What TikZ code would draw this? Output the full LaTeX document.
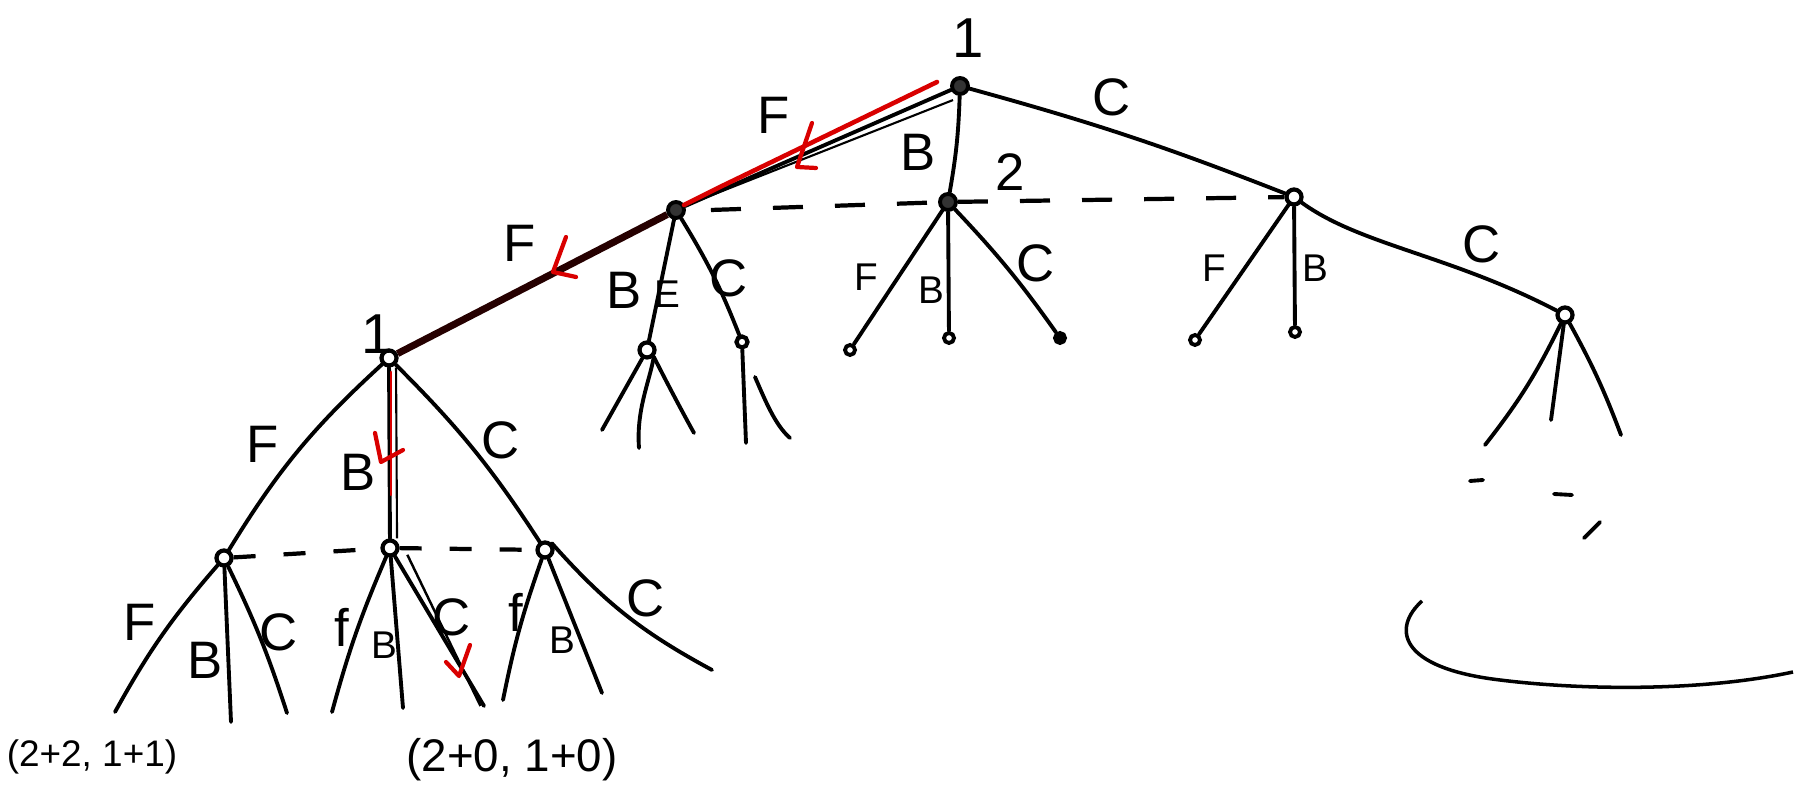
\documentclass[tikz,border=0pt]{standalone}
\usepackage{fontspec}
\setmainfont{Liberation Sans}
\begin{document}
\begin{tikzpicture}[x=0.01cm,y=-0.01cm,
  edge/.style={line width=1.1pt,line cap=round},
  dashline/.style={line width=1.2pt,dash pattern=on 0.3cm off 0.32cm},
  redmark/.style={red!85!black,line width=1.2pt,line cap=round,line join=round},
  fdot/.style={circle,draw,fill=black!80,line width=1.1pt,minimum size=0.16cm,inner sep=0pt},
  odot/.style={circle,draw,fill=white,line width=1.2pt,minimum size=0.15cm,inner sep=0pt},
  leaf/.style={circle,draw,fill=white,line width=1.1pt,minimum size=0.1cm,inner sep=0pt},
  lab/.style={font=\fontsize{15}{15}\selectfont,inner sep=0pt},
  slab/.style={font=\fontsize{11}{11}\selectfont,inner sep=0pt},
  pay/.style={font=\fontsize{11}{11}\selectfont,inner sep=0pt}]
\useasboundingbox (0,0) rectangle (1797,795);
\fill[white] (0,0) rectangle (1797,795);

% decision nodes
\node[fdot] (R) at (960,86) {};
\node[fdot] (L) at (676,210) {};
\node[fdot] (M) at (948,202) {};
\node[odot] (Rt) at (1294,197) {};
\node[odot] (L1) at (389,358) {};
\node[odot] (LB) at (647,350) {};
\node[odot,minimum size=0.11cm] (LC) at (742,342) {};
\node[odot] (RC) at (1565,315) {};
\node[odot] (N1) at (224,558) {};
\node[odot] (N2) at (390,548) {};
\node[odot] (N3) at (545,550) {};
% leaves
\node[leaf] (MF) at (850,350) {};
\node[leaf] (MB) at (949,338) {};
\node[leaf,fill=black] (MC) at (1060,338) {};
\node[leaf] (RF) at (1195,340) {};
\node[leaf] (RB) at (1295,332) {};
% free ends
\coordinate (a1) at (115,712); \coordinate (a2) at (231,722); \coordinate (a3) at (287,713);
\coordinate (b1) at (332,712); \coordinate (b2) at (403,708); \coordinate (b3) at (484,706);
\coordinate (c1) at (503,700); \coordinate (c2) at (602,693); \coordinate (c3) at (712,670);
\coordinate (d1) at (602,430); \coordinate (d2) at (639,448); \coordinate (d3) at (694,433);
\coordinate (e1) at (746,443); \coordinate (e2) at (790,438);
\coordinate (f1) at (1485,445); \coordinate (f2) at (1551,420); \coordinate (f3) at (1621,435);

% top level
\draw[edge] (R) -- (L);
\draw[line width=0.6pt] ([yshift=-2pt]R.south west) -- ([yshift=-1pt]L.north east);
\draw[edge] (R) to[bend left=4] (M);
\draw[edge] (R) to[bend left=3] (Rt);
\draw[dashline] ([xshift=0.25cm]L.east) -- (M);
\draw[dashline] (M) -- (Rt);

% player-1 second level, left
\draw[line width=2pt,black!85!red] (L) -- (L1);
\draw[edge] (L) -- (LB);
\draw[edge] (L) to[bend left=5] (LC);
\draw[edge] (LB) -- (d1);
\draw[edge] (LB.south east) .. controls (650,380) and (636,410) .. (d2);
\draw[edge] (LB.south east) .. controls (668,385) and (684,415) .. (d3);
\draw[edge] (LC) -- (e1);
\draw[edge] (755,377) .. controls (765,400) and (775,425) .. (e2);

% middle
\draw[edge] (M) -- (MF);
\draw[edge] (M) -- (MB);
\draw[edge] (M) to[bend left=4] (MC);

% right
\draw[edge] (Rt) -- (RF);
\draw[edge] (Rt) -- (RB);
\draw[edge] (Rt) .. controls (1360,245) and (1450,255) .. (RC);
\draw[edge] (RC) to[bend left=6] (f1);
\draw[edge] (RC) -- (f2);
\draw[edge] (RC) to[bend left=4] (f3);

% lower left subtree
\draw[edge] (L1) to[bend right=8] (N1);
\draw[edge] (L1) -- (N2);
\draw[line width=0.6pt] ([xshift=2pt]L1.south) -- ([xshift=2pt]N2.north);
\draw[edge] (L1) to[bend left=6] (N3);
\draw[dashline,dash pattern=on 0.22cm off 0.28cm] (N1) -- (N2);
\draw[dashline,dash pattern=on 0.22cm off 0.28cm] (N2) -- (N3);

\draw[edge] (N1) to[bend right=6] (a1);
\draw[edge] (N1) -- (a2);
\draw[edge] (N1) to[bend left=4] (a3);
\draw[edge] (N2) to[bend right=4] (b1);
\draw[edge] (N2) -- (b2);
\draw[edge] (N2) -- (b3);
\draw[line width=0.7pt] ([xshift=3pt]N2.south east) -- ([xshift=-1pt]b3);
\draw[edge] (N3) to[bend right=4] (c1);
\draw[edge] (N3) -- (c2);
\draw[edge] (N3.north east) to[bend right=10] (c3);

% red marks
\draw[redmark,line width=1.3pt] (937,82) -- (720,187) -- (684,205);
\draw[redmark] (812,123) -- (797,167) -- (816,168);
\draw[redmark] (566,237) -- (553,272) -- (576,277);
\draw[redmark,line width=0.6pt] (391,372) -- (391,495);
\draw[redmark] (375,433) -- (381,462) -- (403,450);
\draw[redmark] (446,662) -- (459,676) -- (470,645);

% labels
\node[lab,font=\fontsize{16}{16}\selectfont] (t1) at (968,38) {1};
\node[lab] (tF) at (774,115) {F};
\node[lab] (tB) at (918,152) {B};
\node[lab] (t2) at (1010,172) {2};
\node[lab] (tC) at (1112,97) {C};

\node[lab,font=\fontsize{16}{16}\selectfont] (t1b) at (377,334) {1};
\node[lab] (lF) at (520,243) {F};
\node[lab] (lB) at (624,290) {B};
\node[slab] (lE) at (667,294) {E};
\node[lab] (lC) at (729,278) {C};

\node[slab] (mF) at (866,277) {F};
\node[slab] (mB) at (931,290) {B};
\node[lab] (mC) at (1036,263) {C};

\node[slab] (rF) at (1214,268) {F};
\node[slab] (rB) at (1315,268) {B};
\node[lab] (rC) at (1482,244) {C};

\node[lab] (pF) at (263,444) {F};
\node[lab] (pB) at (358,472) {B};
\node[lab] (pC) at (501,440) {C};

\node[lab] (n1F) at (140,622) {F};
\node[lab] (n1B) at (205,660) {B};
\node[lab] (n1C) at (279,632) {C};
\node[lab] (n2F) at (342,627) {f};
\node[slab] (n2B) at (384,645) {B};
\node[lab] (n2C) at (452,617) {C};
\node[lab] (n3F) at (516,612) {f};
\node[slab] (n3B) at (562,640) {B};
\node[lab] (n3C) at (646,598) {C};

\node[pay,font=\fontsize{10.5}{11}\selectfont] (p1) at (92,757) {(2+2, 1+1)};
\node[pay,font=\fontsize{13}{13}\selectfont] (p2) at (512,760) {(2+0, 1+0)};

% trailing marks on the right
\draw[edge] (1470,481) -- (1483,480);
\draw[edge] (1554,494) -- (1572,495);
\draw[edge] (1584,538) -- (1600,522);
\draw[line width=1pt] (1422,601) .. controls (1392,628) and (1398,668) .. (1500,680)
  .. controls (1580,690) and (1700,692) .. (1793,672);
\end{tikzpicture}
\end{document}
